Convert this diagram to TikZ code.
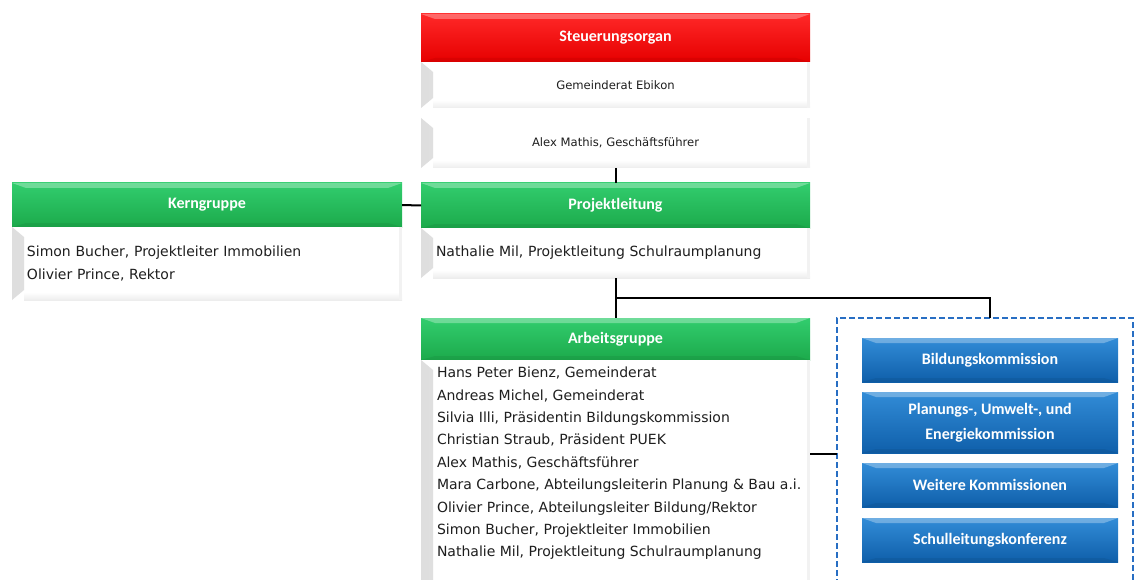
\documentclass[tikz,border=0pt]{standalone}
\usepackage{fontspec}
\setmainfont{DejaVu Sans}
\newfontfamily\headfont{Carlito}
\usetikzlibrary{positioning}

\definecolor{redtop}{RGB}{255,40,40}
\definecolor{redbot}{RGB}{230,0,0}
\definecolor{greentop}{RGB}{50,205,110}
\definecolor{greenbot}{RGB}{28,170,75}
\definecolor{bluetop}{RGB}{50,140,215}
\definecolor{bluebot}{RGB}{15,95,170}
\definecolor{dashblue}{RGB}{40,110,195}
\definecolor{bodytext}{RGB}{30,30,30}

\tikzset{
  headbox/.style={outer sep=0pt, inner sep=0pt, text=white, minimum width=389pt,
    font={\headfont\bfseries\fontsize{16}{19}\selectfont},
    path picture={
      \fill[white, opacity=0.3] (path picture bounding box.north west) -- (path picture bounding box.north east)
        -- ([xshift=-14pt,yshift=-5pt]path picture bounding box.north east) -- ([xshift=14pt,yshift=-5pt]path picture bounding box.north west) -- cycle;
      \fill[black, opacity=0.06] (path picture bounding box.south west) -- (path picture bounding box.south east)
        -- ([xshift=-14pt,yshift=4pt]path picture bounding box.south east) -- ([xshift=14pt,yshift=4pt]path picture bounding box.south west) -- cycle;
    }},
  redhead/.style={headbox, top color=redtop, bottom color=redbot},
  greenhead/.style={headbox, top color=greentop, bottom color=greenbot},
  bluehead/.style={headbox, top color=bluetop, bottom color=bluebot, minimum width=256pt, align=center},
  infobox/.style={outer sep=0pt, fill=white, minimum width=389pt, text=bodytext,
    font={\fontsize{11.6}{14}\selectfont},
    path picture={
      \shade[left color=black!13, right color=white] (path picture bounding box.north west)
        -- ([xshift=12pt,yshift=-10pt]path picture bounding box.north west) -- ([xshift=12pt,yshift=10pt]path picture bounding box.south west)
        -- (path picture bounding box.south west) -- cycle;
      \shade[top color=white, bottom color=black!7] ([xshift=12pt,yshift=8pt]path picture bounding box.south west) rectangle (path picture bounding box.south east);
      \fill[black!5] ([xshift=-3pt]path picture bounding box.north east) rectangle (path picture bounding box.south east);
    }},
  listbox/.style={infobox, inner xsep=15pt, text width=359pt, align=left,
    font={\fontsize{14}{22.4}\selectfont}},
  listtext/.style={inner sep=0pt, text=bodytext, align=left, font={\fontsize{14}{22.4}\selectfont}},
  dashbox/.style={draw=dashblue, dash pattern=on 6pt off 3pt, line width=1.6pt, minimum width=296pt, minimum height=272pt, outer sep=0pt}
}

\begin{document}
\begin{tikzpicture}[x=1pt, y=-1pt, node distance=0pt, line width=2pt]
  \useasboundingbox (0,0) rectangle (1137,580);
  \clip (0,0) rectangle (1137,580);

  % Steuerungsorgan
  \node[redhead, minimum height=48pt] (steu) at (615.5,38) {Steuerungsorgan};
  \node[infobox, minimum height=46pt, below=of steu] (gem) {Gemeinderat Ebikon};
  \node[infobox, minimum height=50pt, below=10pt of gem] (alex) {Alex Mathis, Geschäftsführer};

  % Projektleitung
  \node[greenhead, minimum height=45pt] (proj) at (615.5,205.5) {Projektleitung};
  \node[listbox, minimum height=50pt, below=of proj] (projc) {Nathalie Mil, Projektleitung Schulraumplanung};

  % Kerngruppe
  \node[greenhead, minimum height=44pt, minimum width=390pt] (kern) at (207,205) {Kerngruppe};
  \node[listbox, minimum height=73pt, text width=360pt, below=of kern] (kernc)
    {Simon Bucher, Projektleiter Immobilien\\Olivier Prince, Rektor};

  % Arbeitsgruppe
  \node[greenhead, minimum height=42pt] (arb) at (615.5,339) {Arbeitsgruppe};
  \node[infobox, minimum height=235pt, below=of arb] (arbc) {};
  \node[listtext, anchor=north west] (arbl) at ([xshift=15pt,yshift=-6pt]arbc.north west)
    {Hans Peter Bienz, Gemeinderat\\
     Andreas Michel, Gemeinderat\\
     Silvia Illi, Präsidentin Bildungskommission\\
     Christian Straub, Präsident PUEK\\
     Alex Mathis, Geschäftsführer\\
     Mara Carbone, Abteilungsleiterin Planung \& Bau a.i.\\
     Olivier Prince, Abteilungsleiter Bildung/Rektor\\
     Simon Bucher, Projektleiter Immobilien\\
     Nathalie Mil, Projektleitung Schulraumplanung};

  % Kommissionen
  \node[dashbox] (komm) at (985,454) {};
  \node[bluehead, minimum height=44pt] (bild) at (990,360) {Bildungskommission};
  \node[bluehead, minimum height=61pt] (plan) at (990,422.5) {Planungs-, Umwelt-, und\\[6pt]Energiekommission};
  \node[bluehead, minimum height=44pt] (weit) at (990,485) {Weitere Kommissionen};
  \node[bluehead, minimum height=44pt] (schul) at (990,540) {Schulleitungskonferenz};

  % Verbindungen
  \draw (alex) -- (proj);
  \draw (kern) -- (proj);
  \draw (projc) -- (arb);
  \coordinate (split) at ([yshift=-20pt]projc.south);
  \draw (split) -| (bild |- komm.north);
  \draw (arbc.east |- komm.west) -- (komm.west);
\end{tikzpicture}
\end{document}
